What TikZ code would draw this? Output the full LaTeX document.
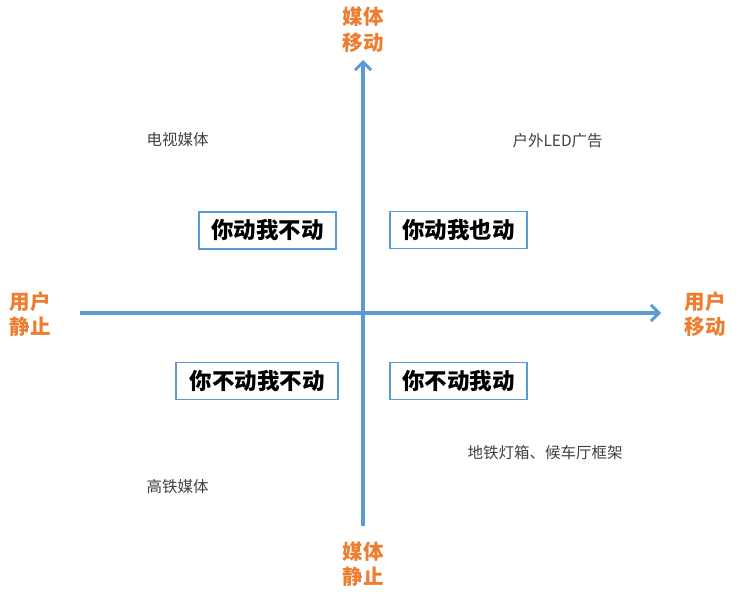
\documentclass[tikz,border=0pt]{standalone}
\usepackage{fontspec}
\newfontfamily\cjk{Noto Sans CJK SC}
\usetikzlibrary{arrows.meta}
\definecolor{axisblue}{HTML}{5B9BD5}
\definecolor{lblorange}{HTML}{ED7D31}
\definecolor{txtgray}{HTML}{404040}
\tikzset{
  axis/.style={draw=axisblue, line width=3.2pt, -{Straight Barb[length=8pt,width=16pt,line width=3pt]}},
  quad/.style={draw=axisblue, line width=1.2pt, fill=white, inner xsep=8pt, minimum height=37pt,
    font=\cjk\fontsize{22.5}{26}\selectfont\bfseries, text=black},
  endlbl/.style={font=\cjk\fontsize{20.5}{25.5}\selectfont\bfseries, text=lblorange, align=center},
  media/.style={font=\cjk\fontsize{15.5}{18}\selectfont, text=txtgray}
}
\begin{document}
\begin{tikzpicture}[x=1pt,y=-1pt]
\useasboundingbox (0,0) rectangle (756,594);
\coordinate (vb) at (363,526);
\coordinate (vt) at (363,60);
\coordinate (hl) at (80,313);
\coordinate (hr) at (661,313);
\draw[axis] (vb) -- (vt);
\draw[axis] (hl) -- (hr);
\node[endlbl] (top) at (363,30) {媒体\\移动};
\node[endlbl] (bot) at (363,564) {媒体\\静止};
\node[endlbl] (lft) at (30,314) {用户\\静止};
\node[endlbl] (rgt) at (705,314) {用户\\移动};
\node[quad, minimum width=137pt] (q1) at (267.5,230.5) {你动我不动};
\node[quad, minimum width=137pt] (q2) at (458.5,230) {你动我也动};
\node[quad, minimum width=162pt] (q3) at (257,381) {你不动我不动};
\node[quad, minimum width=137pt] (q4) at (458.5,381) {你不动我动};
\node[media, anchor=west] (m1) at (143,140) {电视媒体};
\node[media, anchor=west] (m2) at (509,141) {户外LED广告};
\node[media, anchor=west] (m3) at (464,453) {地铁灯箱、候车厅框架};
\node[media, anchor=west] (m4) at (143,487) {高铁媒体};
\end{tikzpicture}
\end{document}
